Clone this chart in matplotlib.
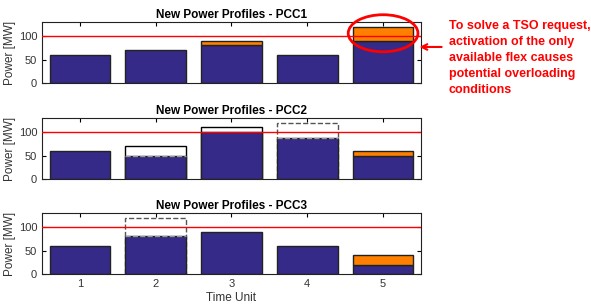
import numpy as np
import matplotlib.pyplot as plt
from matplotlib.patches import Ellipse

plt.rcParams['font.family'] = ['Liberation Sans', 'DejaVu Sans']

# data
time_units = [1, 2, 3, 4, 5]
titles = ['New Power Profiles - PCC1', 'New Power Profiles - PCC2', 'New Power Profiles - PCC3']
# base power after flex (navy)
base = [
    [60, 70, 80, 60, 90],
    [60, 50, 100, 88, 50],
    [60, 80, 90, 60, 20],
]
# flex increase (orange)
flex_up = [
    [0, 0, 10, 0, 30],
    [0, 0, 0, 0, 10],
    [0, 0, 0, 0, 20],
]
# former level, shown as empty box (0 = none)
former = [
    [0, 0, 0, 0, 0],
    [0, 70, 110, 120, 0],
    [0, 120, 0, 0, 0],
]
former_style = [
    ['-', '-', '-', '-', '-'],
    ['-', '-', '-', '--', '-'],
    ['-', '--', '-', '-', '-'],
]
limit = 100

navy = '#352A87'
orange = '#FF8000'

fig = plt.figure(figsize=(5.91, 3.05), dpi=100)
tops = [22, 118, 213]
axes = []
for i in range(3):
    ax = fig.add_axes([42 / 591, 1 - (tops[i] + 61) / 305, 379 / 591, 61 / 305])
    axes.append(ax)
    x = np.array(time_units)
    # empty boxes for former level
    for j in range(5):
        if former[i][j] > 0:
            ls = former_style[i][j]
            ax.bar(x[j], former[i][j], width=0.8, color='white',
                   edgecolor='black' if ls == '-' else '#555555',
                   linewidth=1, linestyle=ls, zorder=1)
    ax.bar(x, base[i], width=0.8, color=navy, edgecolor='#222222', linewidth=1, zorder=2)
    fu = np.array(flex_up[i])
    m = fu > 0
    ax.bar(x[m], fu[m], bottom=np.array(base[i])[m], width=0.8, color=orange,
           edgecolor='#222222', linewidth=1, zorder=2)
    # dashed line at the top of navy where box above
    for j in range(5):
        if former[i][j] > 0 and former_style[i][j] == '--' or (i == 1 and j == 1):
            ax.plot([x[j] - 0.4, x[j] + 0.4], [base[i][j], base[i][j]], ls='--',
                    color='#999999', lw=1, zorder=3)
    ax.axhline(limit, color='red', lw=1, zorder=4)
    ax.set_xlim(0.5, 5.5)
    ax.set_ylim(0, 130)
    ax.set_yticks([0, 50, 100])
    ax.set_xticks(time_units)
    ax.tick_params(direction='in', top=True, right=True, labelsize=8,
                   labelcolor='#333333', length=3)
    if i < 2:
        ax.set_xticklabels([])
    ax.set_ylabel('Power [MW]', fontsize=8.5, color='#333333', labelpad=2)
    ax.set_title(titles[i], fontsize=8.5, fontweight='bold', pad=3)
    for s in ax.spines.values():
        s.set_color('#222222')

axes[2].set_xlabel('Time Unit', fontsize=8.5, color='#333333', labelpad=2)

# annotation on PCC1
ax0 = axes[0]
ell = Ellipse((5.0, 106), 0.92, 79, fill=False, edgecolor='red', lw=2,
              clip_on=False, zorder=5)
ax0.add_patch(ell)
ax0.annotate('', xy=(0.705, 0.846), xycoords='figure fraction',
             xytext=(0.752, 0.846), textcoords='figure fraction',
             arrowprops=dict(arrowstyle='->', color='red', lw=1.5))
fig.text(0.759, 0.935,
         'To solve a TSO request, the\nactivation of the only\navailable flex causes\npotential overloading\nconditions',
         color='red', fontsize=9, fontweight='bold', va='top', ha='left', linespacing=1.45)

fig.savefig('out.png', dpi=100)
